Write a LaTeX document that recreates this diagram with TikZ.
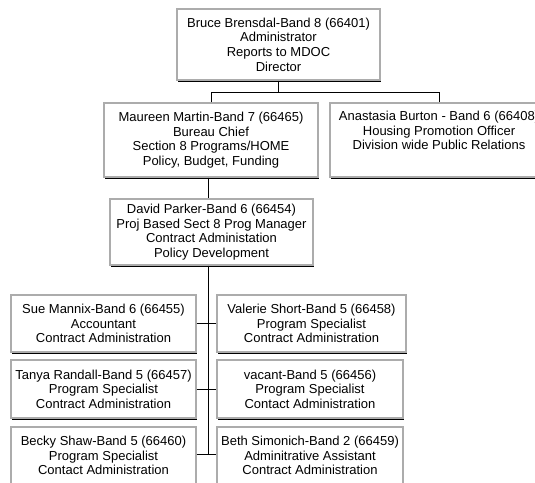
\documentclass[tikz,border=0pt]{standalone}
\usepackage{fontspec}
\setmainfont{Liberation Sans}
\usetikzlibrary{shadows}
\begin{document}
\begin{tikzpicture}[x=1pt,y=-1pt,
  box/.style={draw=gray!65, line width=1.3pt, fill=white, align=center, inner sep=0pt,
    font=\fontsize{13}{14.6}\selectfont,
    drop shadow={shadow xshift=0.5pt, shadow yshift=-1.6pt, opacity=1, fill=black}},
  conn/.style={line width=0.8pt, black}]
\clip (0,0) rectangle (535,482);
\useasboundingbox (0,0) rectangle (535,482);
\fill[white] (0,0) rectangle (535,482);
% top
\node[box, minimum width=203pt, minimum height=71pt] (boss) at (278.5,44.5)
  {Bruce Brensdal-Band 8 (66401)\\Administrator\\Reports to MDOC\\Director};
% second row
\node[box, minimum width=214pt, minimum height=74pt] (maureen) at (211,140)
  {Maureen Martin-Band 7 (66465)\\Bureau Chief\\Section 8 Programs/HOME\\Policy, Budget, Funding};
\node[box, minimum width=218pt, minimum height=74pt] (anast) at (439,140)
  {Anastasia Burton - Band 6 (66408)\\Housing Promotion Officer\\Division wide Public Relations\\\strut};
% third
\node[box, minimum width=203pt, minimum height=66pt] (david) at (211.5,232)
  {David Parker-Band 6 (66454)\\Proj Based Sect 8 Prog Manager\\Contract Administation\\Policy Development};
% staff
\node[box, minimum width=185pt, minimum height=57pt] (sue) at (103.5,323.5)
  {Sue Mannix-Band 6 (66455)\\Accountant\\Contract Administration};
\node[box, minimum width=189pt, minimum height=57pt] (valerie) at (311.5,323.5)
  {Valerie Short-Band 5 (66458)\\Program Specialist\\Contract Administration};
\node[box, minimum width=185pt, minimum height=58pt] (tanya) at (103.5,389)
  {Tanya Randall-Band 5 (66457)\\Program Specialist\\Contract Administration};
\node[box, minimum width=186pt, minimum height=58pt] (vacant) at (310,389)
  {vacant-Band 5 (66456)\\Program Specialist\\Contact Administration};
\node[box, minimum width=185pt, minimum height=57pt] (becky) at (103.5,455.5)
  {Becky Shaw-Band 5 (66460)\\Program Specialist\\Contact Administration};
\node[box, minimum width=186pt, minimum height=57pt] (beth) at (310,455.5)
  {Beth Simonich-Band 2 (66459)\\Adminitrative Assistant\\Contract Administration};
% connectors
\coordinate (bar) at (0,92);
\coordinate (tend) at (208,454);
\draw[conn] (boss.south) -- (boss.south |- bar);
\draw[conn] (maureen.north) -- (maureen.north |- bar) -- (anast.north |- bar) -- (anast.north);
\draw[conn] (maureen.south -| tend) -- (david.north -| tend);
\draw[conn] (david.south -| tend) -- (tend);
\draw[conn] (sue.east) -- (valerie.west);
\draw[conn] (tanya.east) -- (vacant.west);
\draw[conn] (becky.east |- tend) -- (beth.west |- tend);
\end{tikzpicture}
\end{document}
